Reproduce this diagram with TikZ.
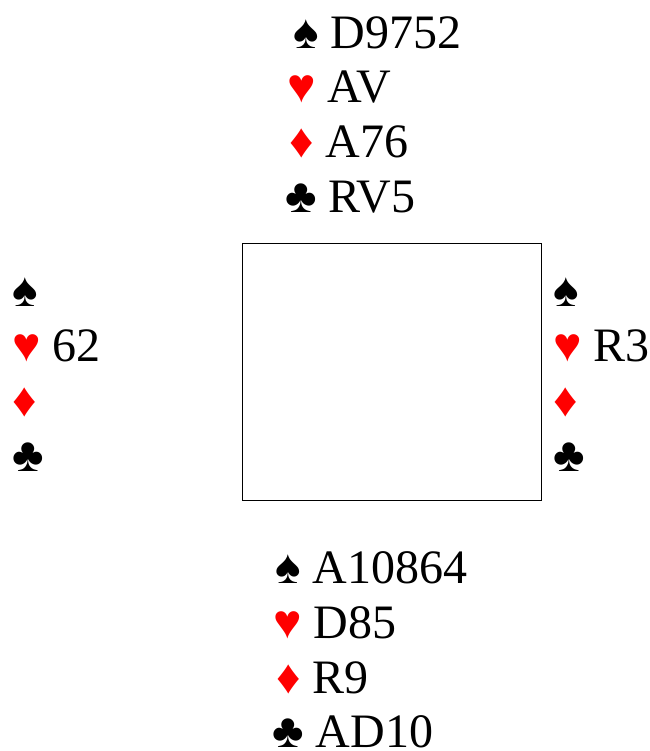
\documentclass[tikz,border=0pt]{standalone}
\usepackage{fontspec}
\setmainfont{Liberation Serif}
\definecolor{suitred}{RGB}{255,0,0}
\tikzset{
  hand/.style={anchor=base west, inner sep=0pt, font=\fontsize{48}{56}\selectfont},
  deal/.style={draw=black, line width=1.2pt}
}
\begin{document}
\begin{tikzpicture}[x=1pt,y=-1pt]
\useasboundingbox (0,0) rectangle (649,751);
\node[deal, minimum width=299pt, minimum height=257pt, anchor=north west, inner sep=0pt] (table) at (242,243) {};
% North
\node[hand] (n1) at (293,49) {♠ D9752};
\node[hand] (n2) at (287,103) {\textcolor{suitred}{♥} AV};
\node[hand] (n3) at (289,158) {\textcolor{suitred}{♦} A76};
\node[hand] (n4) at (285,213) {♣ RV5};
% West
\node[hand] (w1) at (12,306) {♠};
\node[hand] (w2) at (12,361) {\textcolor{suitred}{♥} 62};
\node[hand] (w3) at (12,416) {\textcolor{suitred}{♦}};
\node[hand] (w4) at (12,471) {♣};
% East
\node[hand] (e1) at (553,306) {♠};
\node[hand] (e2) at (553,361) {\textcolor{suitred}{♥} R3};
\node[hand] (e3) at (553,416) {\textcolor{suitred}{♦}};
\node[hand] (e4) at (553,471) {♣};
% South
\node[hand] (s1) at (275,583) {♠ A10864};
\node[hand] (s2) at (273,638) {\textcolor{suitred}{♥} D85};
\node[hand] (s3) at (276,693) {\textcolor{suitred}{♦} R9};
\node[hand] (s4) at (272,747) {♣ AD10};
\end{tikzpicture}
\end{document}
